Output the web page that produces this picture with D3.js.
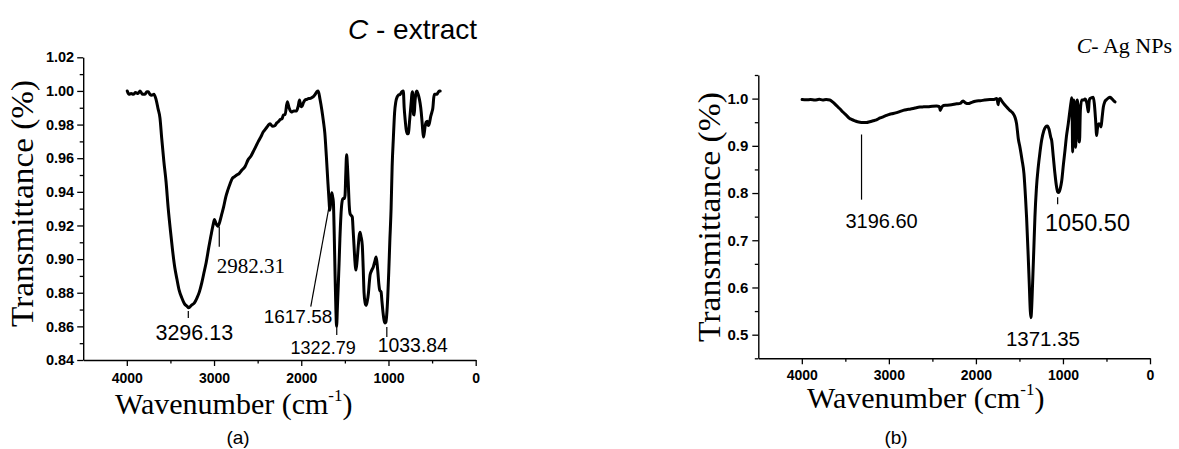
<!DOCTYPE html>
<html><head><meta charset="utf-8">
<script src="https://cdn.jsdelivr.net/npm/d3@7"></script>
<style>body{margin:0;background:#fff}</style>
</head><body>
<svg id="c" width="1179" height="449"></svg>
<script>
// ---------- DATA ----------
const leftWn = [3995,3975,3950,3925,3900,3870,3848,3820,3792,3770,3754,3735,3715,3689,3665,3640,3620,3600,3575,3550,3525,3500,3475,3450,3425,3400,3370,3340,3310,3290,3260,3225,3195,3168,3140,3115,3090,3060,3035,3010,2995,2980,2955,2935,2915,2890,2865,2842,2815,2790,2765,2740,2710,2680,2645,2610,2580,2550,2520,2492,2465,2435,2400,2380,2358,2330,2300,2280,2262,2240,2220,2205,2185,2160,2140,2115,2085,2055,2035,2020,2005,1994,1975,1956,1935,1915,1900,1880,1861,1840,1822,1805,1785,1765,1746,1730,1712,1695,1684,1672,1660,1650,1640,1632,1622,1612,1603,1595,1585,1576,1566,1557,1545,1535,1522,1508,1498,1490,1480,1470,1460,1450,1440,1428,1415,1405,1395,1385,1373,1360,1346,1335,1326,1315,1300,1290,1280,1268,1257,1245,1230,1220,1211,1195,1173,1155,1142,1132,1122,1110,1100,1085,1075,1062,1050,1039,1030,1020,1008,997,985,970,958,944,930,916,900,886,866,847,830,820,809,797,785,771,760,751,740,732,725,718,713,705,698,690,680,675,660,645,630,617,608,599,590,580,568,555,549,538,530,515,502,491,481,472,460,445,437,425,414,407];
const leftT = [1.000,0.998,0.9985,0.998,0.999,0.9985,1.000,0.998,0.998,0.9995,0.9995,0.998,0.9975,0.998,0.995,0.989,0.984,0.972,0.958,0.946,0.930,0.917,0.905,0.895,0.888,0.8815,0.877,0.8735,0.872,0.871,0.8725,0.874,0.877,0.8805,0.886,0.892,0.898,0.907,0.914,0.9205,0.9235,0.9215,0.9195,0.922,0.926,0.931,0.937,0.941,0.945,0.948,0.949,0.950,0.951,0.953,0.955,0.959,0.961,0.964,0.967,0.970,0.9725,0.9757,0.978,0.9795,0.9805,0.979,0.9795,0.981,0.9817,0.983,0.9835,0.9857,0.986,0.9935,0.990,0.9875,0.988,0.988,0.991,0.9946,0.991,0.9906,0.993,0.9946,0.995,0.9955,0.9955,0.996,0.9966,0.998,0.9995,1.000,0.995,0.989,0.982,0.975,0.961,0.946,0.937,0.929,0.935,0.9395,0.937,0.934,0.915,0.890,0.870,0.860,0.872,0.884,0.898,0.912,0.926,0.933,0.936,0.936,0.938,0.950,0.962,0.955,0.944,0.932,0.927,0.926,0.925,0.917,0.908,0.899,0.8935,0.899,0.908,0.914,0.916,0.9135,0.908,0.895,0.880,0.874,0.8725,0.8745,0.8797,0.886,0.8905,0.893,0.8955,0.899,0.9013,0.898,0.8925,0.885,0.8815,0.8805,0.875,0.868,0.8635,0.862,0.8625,0.867,0.878,0.892,0.910,0.930,0.955,0.972,0.987,0.9935,0.9965,0.9975,0.998,0.9995,1.000,0.990,0.983,0.977,0.9745,0.9748,0.981,0.9865,0.993,0.998,0.9995,0.993,0.986,0.9857,0.992,0.997,0.9995,1.000,0.998,0.995,0.990,0.983,0.977,0.9726,0.975,0.979,0.9815,0.982,0.9797,0.9795,0.981,0.985,0.9874,0.990,0.996,0.998,0.998,0.998,0.9986,0.9995,1.000,1.000];

const rightWn = [3997,3950,3900,3850,3800,3760,3720,3678,3640,3601,3560,3525,3490,3450,3429,3390,3360,3333,3300,3257,3220,3180,3142,3100,3060,3027,2990,2950,2900,2870,2835,2800,2750,2700,2644,2600,2550,2500,2452,2420,2410,2400,2375,2330,2280,2222,2180,2160,2146,2120,2088,2050,2020,1992,1950,1900,1839,1800,1762,1750,1745,1738,1724,1700,1670,1647,1610,1571,1550,1533,1513,1494,1470,1448,1430,1418,1400,1387,1375,1368,1360,1349,1335,1322,1305,1284,1265,1245,1220,1200,1180,1160,1140,1130,1110,1092,1075,1060,1050,1040,1028,1015,995,977,960,939,920,905,898,893,889,884,878,874,865,858,854,848,840,835,825,815,810,800,785,765,747,725,712,707,700,690,670,652,640,625,613,605,595,586,570,563,550,536,520,498,480,460,440,420,402];
const rightT = [0.998,0.9975,0.998,0.997,0.9985,0.997,0.998,0.997,0.992,0.985,0.978,0.971,0.965,0.958,0.956,0.953,0.951,0.950,0.9495,0.9495,0.951,0.953,0.955,0.959,0.962,0.9645,0.967,0.9685,0.971,0.973,0.975,0.9765,0.978,0.980,0.982,0.9825,0.983,0.984,0.9845,0.983,0.975,0.979,0.9855,0.986,0.987,0.989,0.990,0.9935,0.995,0.991,0.9895,0.992,0.994,0.995,0.9955,0.997,0.998,0.998,1.000,0.993,0.987,0.996,1.000,0.994,0.987,0.982,0.975,0.968,0.960,0.947,0.915,0.897,0.870,0.841,0.790,0.749,0.670,0.6075,0.550,0.536,0.555,0.6075,0.680,0.749,0.810,0.855,0.885,0.9116,0.932,0.940,0.942,0.935,0.918,0.9116,0.875,0.841,0.815,0.8025,0.801,0.804,0.812,0.825,0.860,0.890,0.920,0.947,0.975,0.995,1.002,0.950,0.887,0.930,0.990,0.997,0.960,0.905,0.897,0.950,0.993,0.997,0.970,0.910,0.908,0.975,0.997,0.997,0.999,0.990,0.975,0.972,0.992,1.000,1.002,1.003,0.990,0.955,0.922,0.935,0.945,0.947,0.945,0.940,0.960,0.982,0.993,0.998,1.001,1.003,1.000,0.996,0.993];

const xTickValues = [4000,3000,2000,1000,0];
const xMinorTicks = [3500,2500,1500,500];
const leftYTicks = [0.84,0.86,0.88,0.90,0.92,0.94,0.96,0.98,1.00,1.02];
const leftYMinor = [0.85,0.87,0.89,0.91,0.93,0.95,0.97,0.99,1.01];
const rightYTicks = [0.5,0.6,0.7,0.8,0.9,1.0];
const rightYMinor = [0.45,0.55,0.65,0.75,0.85,0.95,1.05];

// peak annotations (text, label anchor wn/T, leader line wn1,T1 -> wn2,T2)
const leftPeakText = ["3296.13","2982.31","1617.58","1322.79","1033.84"];
const leftPeakLabelWn = [3226,2577,2037,1749,721];
const leftPeakLabelT = [0.8519,0.8917,0.8620,0.8436,0.8448];
const leftLineWn1 = [3295,2940,1891,1593,1019];
const leftLineT1  = [0.8691,0.9192,0.8717,0.8618,0.8596];
const leftLineWn2 = [3295,2940,1678,1593,1019];
const leftLineT2  = [0.8650,0.9073,0.9321,0.8548,0.8537];

const rightPeakText = ["3196.60","1050.50","1371.35"];
const rightPeakLabelWn = [3084,718,1230];
const rightPeakLabelT = [0.725,0.720,0.477];
const rightLineWn1 = [3314,1061];
const rightLineT1 = [0.924,0.791];
const rightLineWn2 = [3314,1061];
const rightLineT2 = [0.786,0.776];

// ---------- DRAW ----------
const svg = d3.select("#c");
const SANS = "'Liberation Sans', Arial, sans-serif";
const SERIF = "'Liberation Serif', 'Times New Roman', serif";

function drawPanel(p) {
  const x = d3.scaleLinear().domain([4500, 0]).range([p.x0, p.x1]);
  const y = d3.scaleLinear().domain(p.yDomain).range([p.yBottom, p.yTop]);
  const g = svg.append("g");

  // x axis
  const xa = g.append("g").attr("transform", `translate(0,${p.yBottom})`)
    .call(d3.axisBottom(x).tickValues(xTickValues).tickSize(6).tickSizeOuter(0)
      .tickPadding(p.xPad).tickFormat(d3.format("d")));
  g.append("g").attr("transform", `translate(0,${p.yBottom})`)
    .call(d3.axisBottom(x).tickValues(xMinorTicks).tickSize(3.5).tickFormat(""))
    .call(s => s.select(".domain").remove());
  // y axis
  const ya = g.append("g").attr("transform", `translate(${p.x0},0)`)
    .call(d3.axisLeft(y).tickValues(p.yTicks).tickSize(6).tickSizeOuter(0)
      .tickPadding(p.yPad).tickFormat(d3.format(p.yFmt)));
  g.append("g").attr("transform", `translate(${p.x0},0)`)
    .call(d3.axisLeft(y).tickValues(p.yMinor).tickSize(3.5).tickFormat(""))
    .call(s => s.select(".domain").remove());

  g.selectAll(".domain").attr("stroke", "#000").attr("stroke-width", 1.4);
  g.selectAll(".tick line").attr("stroke", "#000").attr("stroke-width", 1.3);
  xa.selectAll("text").attr("font-family", SANS).attr("font-weight", "bold")
    .attr("font-size", p.xFont).attr("fill", "#000");
  ya.selectAll("text").attr("font-family", SANS).attr("font-weight", "bold")
    .attr("font-size", p.yFont).attr("fill", "#000");

  // spectrum
  const pts = p.wn.map((w, i) => [w, p.t[i]]);
  g.append("path").datum(pts)
    .attr("fill", "none").attr("stroke", "#000").attr("stroke-width", 3)
    .attr("stroke-linejoin", "round").attr("stroke-linecap", "round")
    .attr("d", d3.line().x(d => x(d[0])).y(d => y(d[1])).curve(d3.curveMonotoneX));

  // leader lines
  p.lw1.forEach((w, i) => {
    g.append("line")
      .attr("x1", x(w)).attr("y1", y(p.lt1[i]))
      .attr("x2", x(p.lw2[i])).attr("y2", y(p.lt2[i]))
      .attr("stroke", "#000").attr("stroke-width", 1.2);
  });
  // peak labels
  p.labels.forEach((txt, i) => {
    g.append("text").attr("x", x(p.labWn[i])).attr("y", y(p.labT[i]))
      .attr("text-anchor", "middle")
      .attr("font-family", p.labFamily[i]).attr("font-size", p.labSize[i])
      .attr("fill", "#000").text(txt);
  });

  // y label
  g.append("text")
    .attr("transform", `translate(${p.yLabX},${p.yLabY}) rotate(-90)`)
    .attr("text-anchor", "middle").attr("font-family", SERIF)
    .attr("font-size", 31).attr("textLength", p.yLabLen).attr("lengthAdjust", "spacingAndGlyphs")
    .attr("fill", "#000").text("Transmittance (%)");
  // x label
  const xl = g.append("text").attr("x", p.xLabX).attr("y", p.xLabY)
    .attr("font-family", SERIF).attr("font-size", 30).attr("fill", "#000");
  xl.append("tspan").text("Wavenumber (cm");
  xl.append("tspan").attr("font-size", 17).attr("dy", -13).text("-1");
  xl.append("tspan").attr("dy", 13).text(")");
  // sub caption
  g.append("text").attr("x", p.capX).attr("y", 444).attr("text-anchor", "middle")
    .attr("font-family", SANS).attr("font-size", 19).attr("fill", "#000").text(p.cap);
  return g;
}

drawPanel({
  x0: 83.2, x1: 475.7, yBottom: 360, yTop: 57.3, yDomain: [0.84, 1.02],
  yTicks: leftYTicks, yMinor: leftYMinor, yFmt: ".2f", xPad: 7, yPad: 3,
  xFont: 14, yFont: 14.5, wn: leftWn, t: leftT,
  lw1: leftLineWn1, lt1: leftLineT1, lw2: leftLineWn2, lt2: leftLineT2,
  labels: leftPeakText, labWn: leftPeakLabelWn, labT: leftPeakLabelT,
  labFamily: [SANS, SERIF, SANS, SANS, SANS], labSize: [21.5, 21, 19, 18, 19.4],
  yLabX: 33, yLabY: 203.5, yLabLen: 247, xLabX: 115, xLabY: 414, capX: 238, cap: "(a)"
});
drawPanel({
  x0: 758.3, x1: 1150, yBottom: 358.3, yTop: 75, yDomain: [0.45, 1.05],
  yTicks: rightYTicks, yMinor: rightYMinor, yFmt: ".1f", xPad: 6, yPad: 4,
  xFont: 14, yFont: 15, wn: rightWn, t: rightT,
  lw1: rightLineWn1, lt1: rightLineT1, lw2: rightLineWn2, lt2: rightLineT2,
  labels: rightPeakText, labWn: rightPeakLabelWn, labT: rightPeakLabelT,
  labFamily: [SANS, SANS, SANS], labSize: [20, 23.5, 20.5],
  yLabX: 720, yLabY: 217, yLabLen: 250, xLabX: 807, xLabY: 408, capX: 896, cap: "(b)"
});

// titles
const t1 = svg.append("text").attr("x", 348).attr("y", 39)
  .attr("font-family", SANS).attr("font-size", 28).attr("fill", "#000");
t1.append("tspan").attr("font-style", "italic").text("C");
t1.append("tspan").text(" - extract");
const t2 = svg.append("text").attr("x", 1172).attr("y", 53).attr("text-anchor", "end")
  .attr("font-family", SERIF).attr("font-size", 22).attr("fill", "#000");
t2.append("tspan").attr("font-style", "italic").text("C");
t2.append("tspan").text("- Ag NPs");
</script>
</body></html>
